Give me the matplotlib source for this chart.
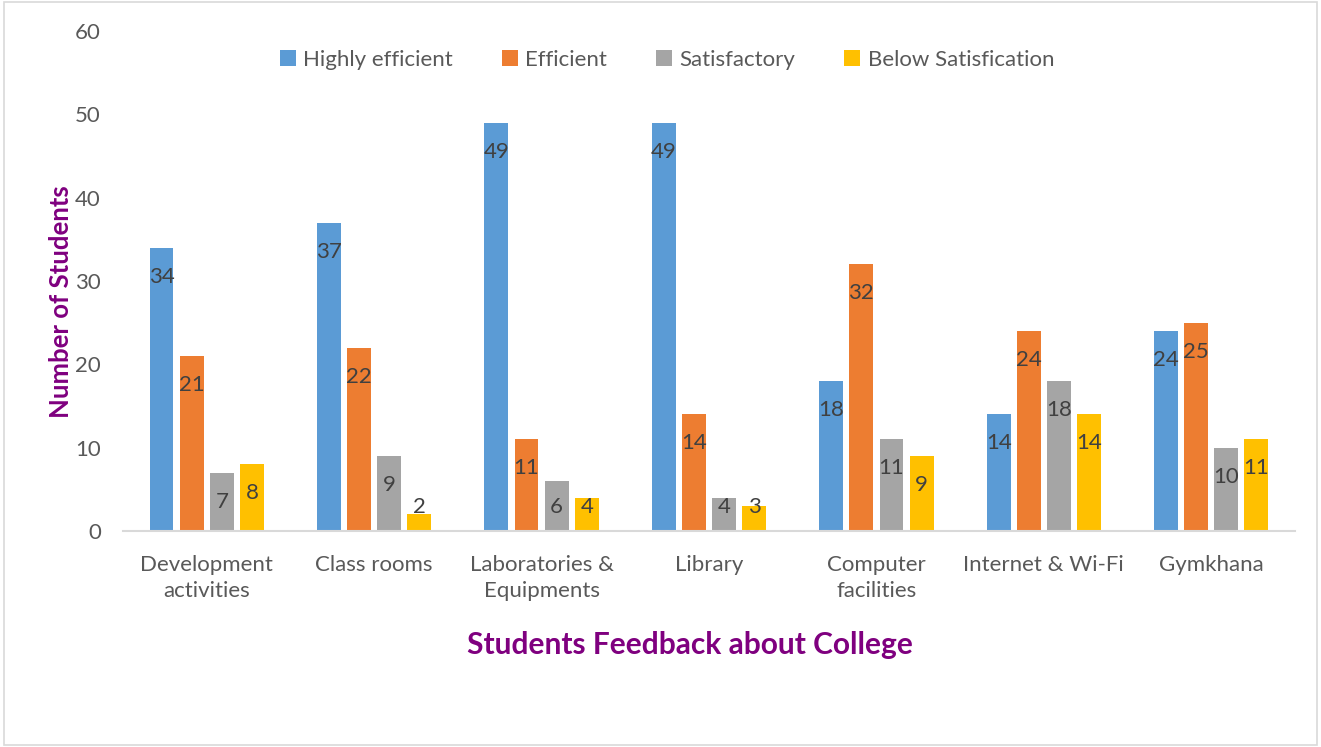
import matplotlib.pyplot as plt
import numpy as np
from matplotlib.patches import Rectangle

categories = ['Development\nactivities', 'Class rooms', 'Laboratories &\nEquipments',
              'Library', 'Computer\nfacilities', 'Internet & Wi-Fi', 'Gymkhana']
series_names = ['Highly efficient', 'Efficient', 'Satisfactory', 'Below Satisfication']
highly_efficient = [34, 37, 49, 49, 18, 14, 24]
efficient = [21, 22, 11, 14, 32, 24, 25]
satisfactory = [7, 9, 6, 4, 11, 18, 10]
below_satisfication = [8, 2, 4, 3, 9, 14, 11]
colors = ['#5B9BD5', '#ED7D31', '#A5A5A5', '#FFC000']

plt.rcParams['font.family'] = ['Lato', 'DejaVu Sans']

fig = plt.figure(figsize=(13.21, 7.47), dpi=100)
ax = fig.add_axes([0.0931, 0.2892, 0.8872, 0.6693])

x = np.arange(len(categories))
offsets = [-0.27, -0.09, 0.09, 0.27]
width = 0.143
all_series = [highly_efficient, efficient, satisfactory, below_satisfication]

for vals, off, col, name in zip(all_series, offsets, colors, series_names):
    ax.bar(x + off, vals, width, color=col, label=name, zorder=2)
    for xi, v in zip(x, vals):
        ax.annotate(str(v), xy=(xi + off, max(v, 6.4)), xytext=(0, -20.9),
                    textcoords='offset points', ha='center', va='center',
                    fontsize=16, color='#404040', zorder=3)

ax.set_xlim(-0.5, 6.5)
ax.set_ylim(0, 60)
ax.set_yticks(range(0, 61, 10))
ax.set_xticks(x)
ax.set_xticklabels(categories, fontsize=16, color='#595959', linespacing=1.4)
ax.tick_params(axis='y', length=0, pad=16, labelsize=16, labelcolor='#595959')
ax.tick_params(axis='x', length=0, pad=17)

for s in ['top', 'right', 'left']:
    ax.spines[s].set_visible(False)
ax.spines['bottom'].set_color('#D9D9D9')
ax.spines['bottom'].set_linewidth(1.5)

ax.set_ylabel('Number of Students', fontsize=18.5, fontweight='bold', color='#7F007F')
ax.yaxis.set_label_coords(-0.043, 0.458)
fig.text(0.522, 0.137, 'Students Feedback about College', ha='center', va='center',
         fontsize=21.5, fontweight='bold', color='#7F007F')

fig.legend(loc='center', bbox_to_anchor=(0.505, 0.92), ncol=4, frameon=False,
           fontsize=16, handlelength=0.7, handleheight=0.7, handletextpad=0.35,
           columnspacing=2.2, labelcolor='#595959')

fig.patches.append(Rectangle((0.003, 0.003), 0.994, 0.994, transform=fig.transFigure,
                             fill=False, edgecolor='#D9D9D9', linewidth=1.2))

plt.savefig('out.png', dpi=100)
